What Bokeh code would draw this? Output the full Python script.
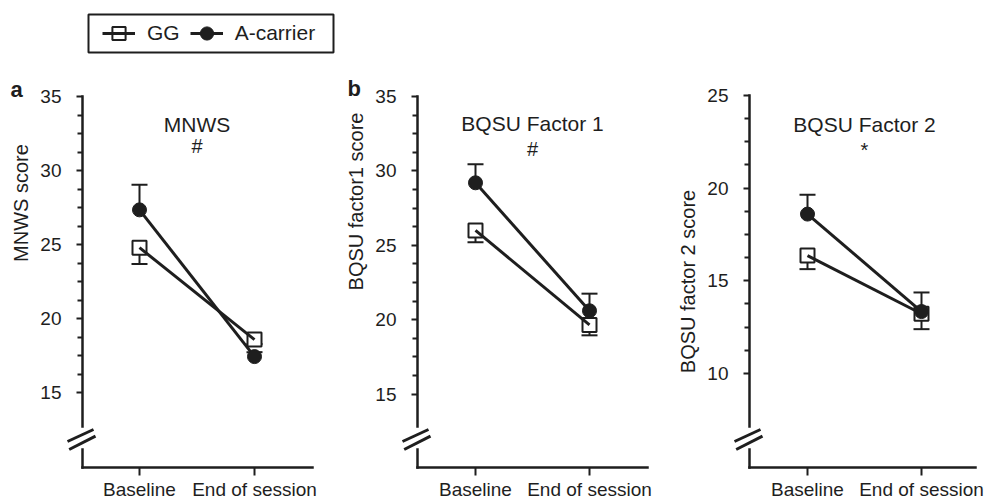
import numpy as np
from bokeh.plotting import figure
from bokeh.layouts import row
from bokeh.models import Range1d, FixedTicker, Label, Legend, LegendItem
from bokeh.embed import file_html
from bokeh.resources import INLINE

# ---------------- data ----------------
timepoints = ["Baseline", "End of session"]
groups = ["GG", "A-carrier"]

mnws_gg = [24.8, 18.6]
mnws_gg_sem = [1.1, 0.3]
mnws_a = [27.35, 17.45]
mnws_a_sem = [1.7, 0.3]

bqsu1_gg = [26.0, 19.65]
bqsu1_gg_sem = [0.8, 0.7]
bqsu1_a = [29.2, 20.6]
bqsu1_a_sem = [1.25, 1.15]

bqsu2_gg = [16.36, 13.22]
bqsu2_gg_sem = [0.73, 0.83]
bqsu2_a = [18.6, 13.34]
bqsu2_a_sem = [1.04, 1.03]

titles = ["MNWS", "BQSU Factor 1", "BQSU Factor 2"]
marks = ["#", "#", "*"]
ylabels = ["MNWS score", "BQSU factor1 score", "BQSU factor 2 score"]
letters = ["a", "b", ""]
yticks_ab = [15, 20, 25, 30, 35]
yticks_c = [10, 15, 20, 25]

# ---------------- style / layout ----------------
DARK = "#1e1e1e"
FONT = "Liberation Sans"
FIG_H = 500

panels = [
    dict(width=340, axis_px=82, base_px=139, unit=115, xend_px=312,
         top_val=35, top_py=96, scale=14.82, xaxis_py=467,
         letter_xy=(10, 88.6), title_py=123.5, mark_py=145, ylabel_xy=(20.5, 202.5),
         yticks=yticks_ab),
    dict(width=330, axis_px=77, base_px=135, unit=114, xend_px=307,
         top_val=35, top_py=96, scale=14.88, xaxis_py=467,
         letter_xy=(7, 87.5), title_py=123.3, mark_py=148.3, ylabel_xy=(15, 201),
         yticks=yticks_ab),
    dict(width=314, axis_px=79, base_px=137, unit=114, xend_px=305,
         top_val=25, top_py=95, scale=18.53, xaxis_py=467,
         letter_xy=(10, 88), title_py=124.3, mark_py=149.7, ylabel_xy=(17.5, 281),
         yticks=yticks_c),
]

series = [
    (mnws_gg, mnws_gg_sem, mnws_a, mnws_a_sem),
    (bqsu1_gg, bqsu1_gg_sem, bqsu1_a, bqsu1_a_sem),
    (bqsu2_gg, bqsu2_gg_sem, bqsu2_a, bqsu2_a_sem),
]

xpos = [i + 1 for i in range(len(timepoints))]


def make_panel(i):
    cfg = panels[i]
    gg, gg_sem, a, a_sem = series[i]
    W = cfg["width"]

    def xv(px):
        return 1 + (px - cfg["base_px"]) / cfg["unit"]

    def yv(py):
        return cfg["top_val"] - (py - cfg["top_py"]) / cfg["scale"]

    p = figure(width=W, height=FIG_H,
               x_range=Range1d(xv(0), xv(W)), y_range=Range1d(yv(FIG_H), yv(0)),
               output_backend="svg", toolbar_location=None, tools="",
               min_border=0, min_border_left=0, min_border_right=0,
               min_border_top=0, min_border_bottom=0)
    p.grid.visible = False
    p.outline_line_color = None
    p.background_fill_color = "white"
    p.border_fill_color = "white"

    ax = xv(cfg["axis_px"])
    xb = cfg["xaxis_py"]
    ytop_break = yv(xb - 41)

    # y axis (ticks + labels from bokeh; rule drawn as segments)
    yt = cfg["yticks"]
    minor = [t + k * 1.25 for t in yt[:-1] for k in (1, 2, 3)]
    ya = p.yaxis[0]
    ya.fixed_location = ax
    ya.bounds = (ytop_break, yt[-1])
    ya.ticker = FixedTicker(ticks=yt, minor_ticks=minor)
    ya.axis_line_color = None
    ya.major_tick_line_width = 2
    ya.minor_tick_line_width = 2
    ya.major_tick_line_color = DARK
    ya.minor_tick_line_color = DARK
    ya.major_tick_out = 6
    ya.major_tick_in = 0
    ya.minor_tick_out = 5
    ya.minor_tick_in = 0
    ya.major_label_standoff = 15
    ya.major_label_text_font = FONT
    ya.major_label_text_font_size = "19px"
    ya.major_label_text_color = DARK

    # x axis
    xa = p.xaxis[0]
    xa.fixed_location = yv(xb)
    xa.bounds = (ax, xv(cfg["xend_px"]))
    xa.ticker = FixedTicker(ticks=xpos, minor_ticks=[])
    xa.major_label_overrides = {x: t for x, t in zip(xpos, timepoints)}
    xa.axis_line_color = None
    xa.major_tick_line_width = 2
    xa.major_tick_line_color = DARK
    xa.major_tick_out = 8
    xa.major_tick_in = 0
    xa.minor_tick_line_color = None
    xa.major_label_standoff = 3
    xa.major_label_text_font = FONT
    xa.major_label_text_font_size = "19px"
    xa.major_label_text_color = DARK

    # axis rules
    p.segment(x0=[ax, ax, ax], y0=[ytop_break, yv(xb), yv(xb)],
              x1=[ax, ax, xv(cfg["xend_px"])], y1=[yt[-1], yv(xb - 18), yv(xb)],
              line_width=2.5, line_color=DARK, line_cap="square")
    # axis break marks
    p.segment(x0=[xv(cfg["axis_px"] - 15), xv(cfg["axis_px"] - 13.3)],
              y0=[yv(xb - 26), yv(xb - 18)],
              x1=[xv(cfg["axis_px"] + 11), xv(cfg["axis_px"] + 13)],
              y1=[yv(xb - 38), yv(xb - 31.4)],
              line_width=3, line_color=DARK)

    # legend box (panel a only)
    if i == 0:
        p.quad(left=[xv(88)], right=[xv(333)], top=[yv(14)], bottom=[yv(52)],
               fill_color="white", line_color=DARK, line_width=2)

    # error bars: GG downward, A-carrier upward
    gg_lo = [m - s for m, s in zip(gg, gg_sem)]
    a_hi = [m + s for m, s in zip(a, a_sem)]
    p.segment(x0=xpos, y0=gg, x1=xpos, y1=gg_lo, line_width=2, line_color=DARK)
    p.scatter(x=xpos, y=gg_lo, marker="dash", size=16, line_width=2, line_color=DARK)
    p.segment(x0=xpos, y0=a, x1=xpos, y1=a_hi, line_width=2, line_color=DARK)
    p.scatter(x=xpos, y=a_hi, marker="dash", size=16, line_width=2, line_color=DARK)

    r_gg_sq = p.scatter(x=xpos, y=gg, marker="square", size=14, fill_color="white",
                        line_color=DARK, line_width=2)
    r_gg_ln = p.line(x=xpos, y=gg, line_width=3, line_color=DARK)
    r_a_ln = p.line(x=xpos, y=a, line_width=3, line_color=DARK)
    r_a_ci = p.scatter(x=xpos, y=a, marker="circle", size=14, fill_color=DARK,
                       line_color=DARK, line_width=1)

    # texts
    p.add_layout(Label(x=1.5, y=yv(cfg["title_py"]), text=titles[i], text_align="center",
                       text_baseline="middle", text_font=FONT, text_font_size="21px",
                       text_color=DARK))
    p.add_layout(Label(x=1.5, y=yv(cfg["mark_py"]), text=marks[i], text_align="center",
                       text_baseline="middle", text_font=FONT, text_font_size="20px",
                       text_color=DARK))
    lx, ly = cfg["ylabel_xy"]
    p.add_layout(Label(x=xv(lx), y=yv(ly), text=ylabels[i], angle=np.pi / 2,
                       text_align="center", text_baseline="middle", text_font=FONT,
                       text_font_size="20px", text_color=DARK))
    if letters[i]:
        lx, ly = cfg["letter_xy"]
        p.add_layout(Label(x=xv(lx), y=yv(ly), text=letters[i], text_align="left",
                           text_baseline="middle", text_font=FONT,
                           text_font_size="22px", text_font_style="bold",
                           text_color=DARK))

    if i == 0:
        legend = Legend(items=[LegendItem(label=groups[0], renderers=[r_gg_sq, r_gg_ln]),
                               LegendItem(label=groups[1], renderers=[r_a_ln, r_a_ci])],
                        location=(102, FIG_H - 51), orientation="horizontal",
                        glyph_width=33, glyph_height=36, label_standoff=12, spacing=10,
                        padding=0, margin=0, border_line_color=None,
                        background_fill_alpha=0, label_text_font=FONT,
                        label_text_font_size="21px", label_text_color=DARK)
        p.add_layout(legend, "center")
    return p


figs = [make_panel(i) for i in range(3)]
layout = row(*figs)

open("out.html", "w").write(file_html(layout, INLINE))
